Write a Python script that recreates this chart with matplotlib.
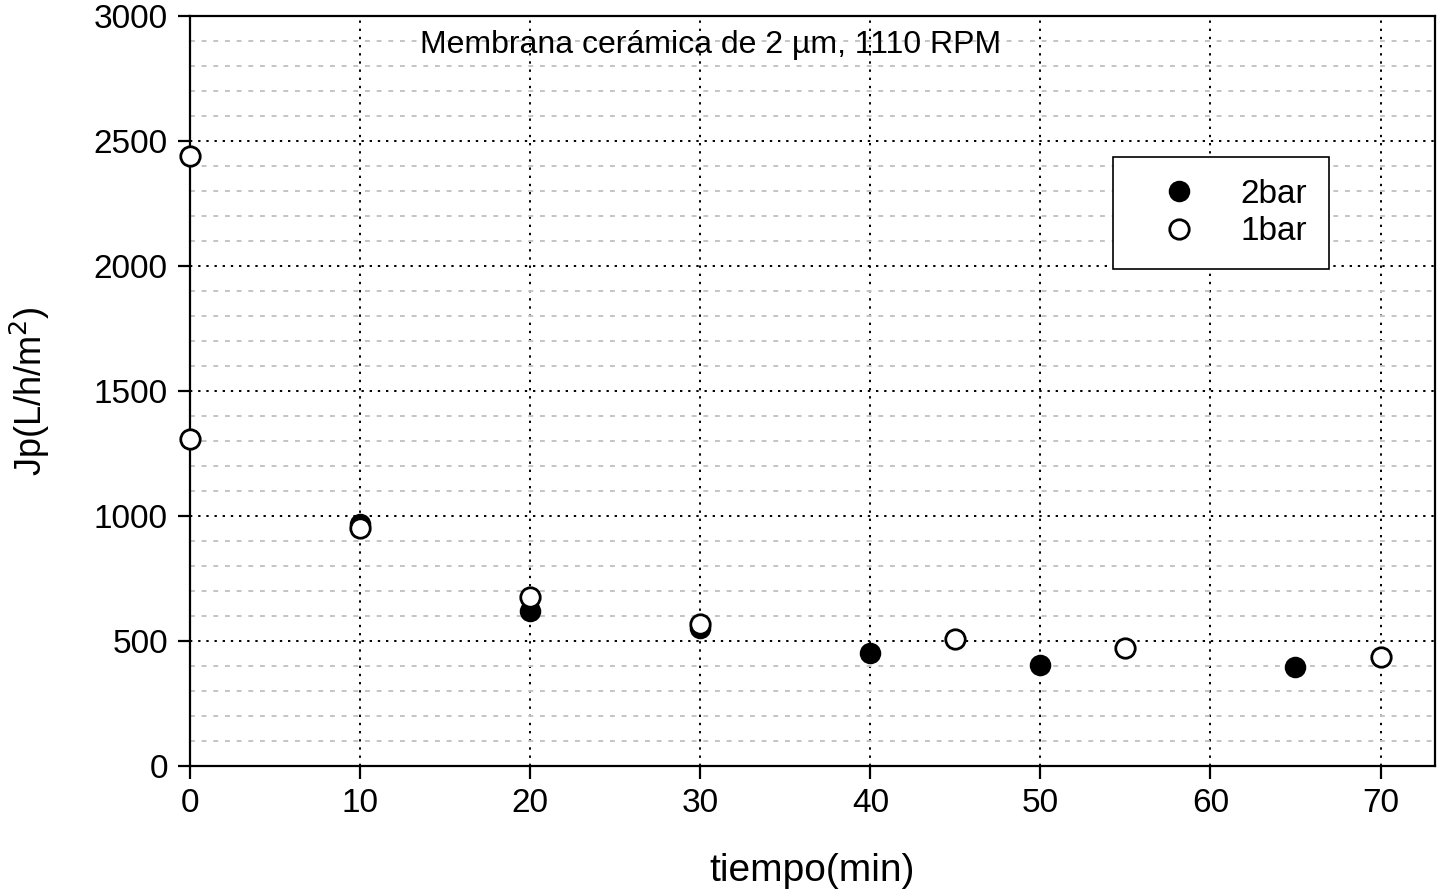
import matplotlib
matplotlib.use("Agg")
import matplotlib.pyplot as plt
from matplotlib.ticker import MultipleLocator

plt.rcParams['font.family'] = ['Liberation Sans', 'DejaVu Sans']

# flux data
t_2bar = [10, 20, 30, 40, 50, 65]
jp_2bar = [970, 620, 553, 452, 405, 395]
t_1bar = [0, 0, 10, 20, 30, 45, 55, 70]
jp_1bar = [2440, 1308, 952, 675, 567, 510, 472, 436]

x_ticks = [0, 10, 20, 30, 40, 50, 60, 70]
y_ticks = [0, 500, 1000, 1500, 2000, 2500, 3000]

fig = plt.figure(figsize=(14.41, 8.90), dpi=100)
ax = fig.add_axes([0.1319, 0.1393, 0.9958 - 0.1319, 0.982 - 0.1393])

ax.set_xlim(0, 73.2)
ax.set_ylim(0, 3000)
ax.set_xticks(x_ticks)
ax.set_yticks(y_ticks)
ax.yaxis.set_minor_locator(MultipleLocator(100))

# grid: black dotted majors, grey short dashes for the minor rows
ax.grid(True, which='major', color='black', linestyle=(0, (1.2, 3)), linewidth=1.4)
ax.grid(True, which='minor', axis='y', color='#c4c4c4', linestyle=(0, (2.5, 3.5)), linewidth=1.4)
ax.set_axisbelow(True)

ax.plot(t_2bar, jp_2bar, 'o', color='black', markersize=14, markeredgewidth=1.5,
        label='2bar', clip_on=False, zorder=3)
ax.plot(t_1bar, jp_1bar, 'o', markerfacecolor='white', markeredgecolor='black', markersize=14,
        markeredgewidth=2, label='1bar', clip_on=False, zorder=4)

for s in ax.spines.values():
    s.set_linewidth(1.6)
ax.tick_params(which='major', direction='out', length=9, width=1.6, labelsize=24, pad=7)
ax.tick_params(which='minor', length=0)

ax.set_xlabel('tiempo(min)', fontsize=28, labelpad=24)
ax.set_ylabel('Jp(L/h/m$^2$)', fontsize=26, labelpad=30)

ax.text(30.6, 2884, 'Membrana cerámica de 2 µm, 1110 RPM', fontsize=23,
        ha='center', va='center')

leg = ax.legend(loc='upper left', bbox_to_anchor=(0.741, 0.812), borderaxespad=0,
                fontsize=24, fancybox=False, framealpha=1,
                edgecolor='black', borderpad=0.65, handletextpad=0.5,
                labelspacing=0.2, handlelength=2.7, markerscale=1.0)
leg.get_frame().set_linewidth(1.2)

fig.savefig('out.png', dpi=100)
